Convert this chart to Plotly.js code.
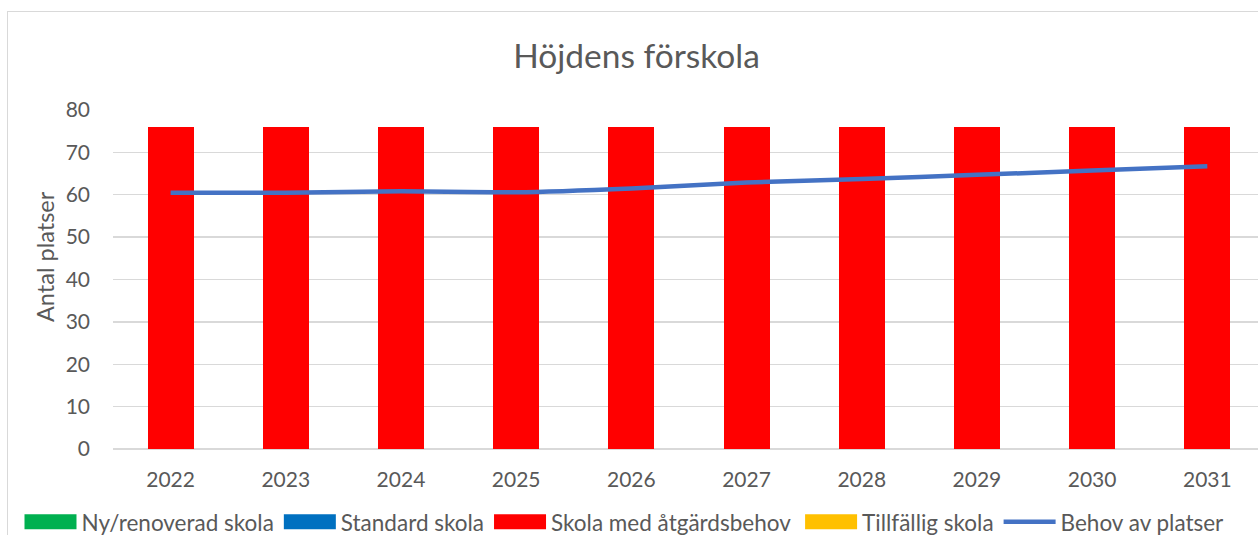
<!DOCTYPE html>
<html>
<head>
<meta charset="utf-8">
<script src="https://cdn.plot.ly/plotly-3.0.1.min.js"></script>
<style>
  html, body { margin: 0; padding: 0; background: #fff; }
  #wrap { position: relative; width: 1258px; height: 535px; overflow: hidden; }
  #chart { width: 1258px; height: 535px; }
  #frame { position: absolute; left: 7px; top: 11px; width: 1400px; height: 700px;
           border: 1px solid #d9d9d9; pointer-events: none; box-sizing: border-box; }
</style>
</head>
<body>
<div id="wrap">
  <div id="chart"></div>
  <div id="frame"></div>
</div>
<script>
const years = ['2022','2023','2024','2025','2026','2027','2028','2029','2030','2031'];
const nyRenoverad = [0,0,0,0,0,0,0,0,0,0];
const standardSkola = [0,0,0,0,0,0,0,0,0,0];
const skolaMedAtgardsbehov = [76,76,76,76,76,76,76,76,76,76];
const tillfalligSkola = [0,0,0,0,0,0,0,0,0,0];
const behovAvPlatser = [60.5,60.5,60.8,60.6,61.5,62.9,63.7,64.7,65.7,66.7];

const seriesNames = ['Ny/renoverad skola','Standard skola','Skola med åtgärdsbehov','Tillfällig skola','Behov av platser'];
const seriesColors = ['#00b050','#0070c0','#ff0000','#ffc000','#4472c4'];
const barSeries = [nyRenoverad, standardSkola, skolaMedAtgardsbehov, tillfalligSkola];
const yTitle = 'Antal platser';
const chartTitle = 'Höjdens förskola';

const FONT = 'Lato, "Open Sans", sans-serif';
// the legend row is split in two Plotly legends so it fits on one line like the original
const legendOf = ['legend', 'legend', 'legend', 'legend2', 'legend2'];
const traces = [];
barSeries.forEach((vals, i) => {
  traces.push({
    type: 'bar', x: years, y: vals, name: seriesNames[i],
    marker: { color: seriesColors[i] }, legendgroup: 'g' + i, showlegend: false,
    hoverinfo: 'x+y+name'
  });
  traces.push({
    type: 'scatter', mode: 'lines', x: [null], y: [null], name: seriesNames[i],
    line: { color: seriesColors[i], width: 15 }, legendgroup: 'g' + i, hoverinfo: 'skip',
    legend: legendOf[i]
  });
});
traces.push({
  type: 'scatter', mode: 'lines', x: years, y: behovAvPlatser, name: seriesNames[4],
  line: { color: seriesColors[4], width: 4.5, shape: 'spline', smoothing: 0.5 },
  legend: legendOf[4]
});

const legendBase = {
  orientation: 'h', xref: 'container', yref: 'container', y: 0.024,
  xanchor: 'left', yanchor: 'middle', itemwidth: 52, traceorder: 'normal',
  font: { family: FONT, size: 22.5, color: '#595959' }, bgcolor: 'rgba(0,0,0,0)'
};

const layout = {
  width: 1258, height: 535,
  margin: { l: 113, r: 0, t: 110, b: 86 },
  paper_bgcolor: '#ffffff', plot_bgcolor: '#ffffff',
  font: { family: FONT, color: '#595959', size: 20 },
  title: { text: chartTitle, font: { family: FONT, size: 33.5, color: '#595959' },
           x: 0.506, xanchor: 'center', y: 0.895, yanchor: 'middle', xref: 'container', yref: 'container' },
  barmode: 'stack', bargap: 0.6,
  xaxis: {
    type: 'category', range: [-0.5, 9.44], showgrid: false, zeroline: false,
    showline: false, ticks: '', ticklabelstandoff: 16,
    tickfont: { family: FONT, size: 21, color: '#595959' },
    fixedrange: true
  },
  yaxis: {
    range: [0, 80], dtick: 10, showgrid: true, gridcolor: '#d9d9d9', gridwidth: 1.3,
    zeroline: true, zerolinecolor: '#d9d9d9', zerolinewidth: 1.3,
    showline: false, ticks: '', ticklen: 0, ticklabelstandoff: 22,
    tickfont: { family: FONT, size: 21, color: '#595959' },
    fixedrange: true
  },
  annotations: [{
    text: yTitle, textangle: -90, showarrow: false,
    xref: 'paper', yref: 'paper', x: (45 - 113) / 1145, y: (449 - 257) / 339,
    xanchor: 'center', yanchor: 'middle',
    font: { family: FONT, size: 23.5, color: '#595959' }
  }],
  showlegend: true,
  legend: Object.assign({}, legendBase, { x: 0.0155 }),
  legend2: Object.assign({}, legendBase, { x: 0.636 })
};

Plotly.newPlot('chart', traces, layout, { displayModeBar: false, staticPlot: true }).then(gd => {
  // Plotly caps legend line thickness; widen the block symbols to match the original
  gd.querySelectorAll('.traces').forEach(it => {
    const name = it.textContent;
    if (seriesNames.slice(0, 4).includes(name)) {
      it.querySelectorAll('.legendlines path').forEach(p => { p.style.strokeWidth = '15px'; });
    }
  });
});
</script>
</body>
</html>
